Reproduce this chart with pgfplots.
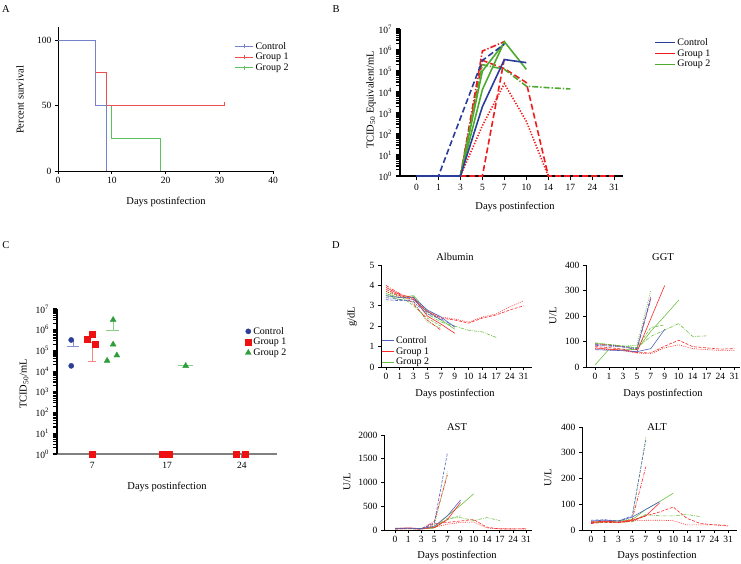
\documentclass[border=0pt]{standalone}
\usepackage{fontspec}
\setmainfont{Liberation Serif}
\usepackage{pgfplots}
\pgfplotsset{compat=1.18}

\definecolor{blA}{HTML}{7581C8}
\definecolor{rdA}{HTML}{F04E4E}
\definecolor{gnA}{HTML}{5CC05C}
\definecolor{blB}{HTML}{2B3C9B}
\definecolor{rdB}{HTML}{EE1C1C}
\definecolor{gnB}{HTML}{4DAA2E}
\definecolor{blC}{HTML}{2E3D96}
\definecolor{rdC}{HTML}{EE1111}
\definecolor{gnC}{HTML}{2E9E3A}
\definecolor{blCm}{HTML}{8890D0}
\definecolor{rdCm}{HTML}{F08888}
\definecolor{gnCm}{HTML}{88D088}
\definecolor{blD}{HTML}{5262C0}
\definecolor{rdD}{HTML}{FF2828}
\definecolor{gnD}{HTML}{6CC040}

\tikzset{
  s1/.style={solid},
  s2/.style={dash pattern=on 6pt off 3pt},
  s3/.style={dash pattern=on 1.3pt off 1.6pt},
  s4/.style={dash pattern=on 6pt off 2pt on 1.3pt off 2pt},
  d2/.style={dash pattern=on 3pt off 1.5pt},
  d3/.style={dash pattern=on 1pt off 1.2pt},
  d4/.style={dash pattern=on 3.5pt off 1.2pt on 0.8pt off 1.2pt},
}

\pgfplotsset{
  gp/.style={
    scale only axis, anchor=south west,
    axis x line=bottom, axis y line=left,
    axis line style={-, line width=0.8pt},
    tick align=outside, tick style={black, line width=0.8pt},
    major tick length=3pt,
    tick label style={font=\fontsize{9.5}{10}\selectfont},
    /pgf/number format/assume math mode=true,
    /pgf/number format/1000 sep={},
    legend style={draw=none, fill=none, font=\fontsize{10}{12}\selectfont,
      row sep=-1.5pt, inner sep=0pt},
    legend cell align=left,
    clip=false,
  },
  % \tick holds ln(value) on a log axis
  logy/.style={
    ymin=1, ymax=1e7,
    yticklabel={10\textsuperscript{\pgfmathparse{int(round(\tick/2.302585093))}\pgfmathresult}},
    y axis line style={line width=1.6pt}, tick style={line width=1pt},
    major tick length=4.5pt, minor tick length=4pt,
    minor y tick style={line width=1.1pt},
  },
  days/.style={xtick={0,...,10}, xticklabels={0,1,3,5,7,9,10,14,17,24,31},
    ymin=0, no markers, every axis plot/.append style={line width=0.6pt},
    legend image code/.code={\draw[##1] (0pt,0pt) -- (12pt,0pt);}},
}

\begin{document}
\begin{tikzpicture}
\path[use as bounding box] (0pt,0pt) rectangle (741pt,564pt);

% ---------- A: survival
\begin{axis}[gp, at={(58pt,393pt)}, width=215pt, height=144pt,
  xmin=0, xmax=40, ymin=0, ymax=110,
  xtick={0,10,...,40}, ytick={0,50,100},
  legend style={at={(0.82,0.91)}, anchor=north west},
  legend image code/.code={\draw[#1] (0pt,0pt) -- (18pt,0pt); \draw[#1] (9pt,-2pt) -- (9pt,2pt);}]
\addlegendimage{blA, line width=1pt}
\addlegendimage{rdA, line width=1pt}
\addlegendimage{gnA, line width=1pt}
\addplot[gnA, line width=1pt, const plot, forget plot] coordinates {(0,100)(7,50)(10,25)(19,0)};
\addplot[rdA, line width=1pt, const plot, forget plot] coordinates {(0,100)(7,75)(9,50)(31,50)};
\addplot[rdA, line width=1pt, forget plot] coordinates {(31,50)(31,53)};
\addplot[blA, line width=1pt, const plot, forget plot] coordinates {(0,100)(7,50)(9,0)};
\legend{Control, Group 1, Group 2}
\end{axis}

% ---------- B: viral load by animal
\begin{axis}[gp, ymode=log, logy, at={(400pt,388pt)}, width=223pt, height=147pt,
  xmin=-0.75, xmax=9.4, x axis line style={line width=1.6pt},
  xtick={0,...,9}, xticklabels={0,1,3,5,7,10,14,17,24,31},
  every axis plot/.append style={line width=1.6pt},
  legend style={at={(1.14,0.95)}, anchor=north west},
  legend image code/.code={\draw[#1, line width=1pt] (0pt,0pt) -- (20pt,0pt);}]
\addlegendimage{blB}
\addlegendimage{rdB}
\addlegendimage{gnB}
\addplot[rdB, s2, forget plot] coordinates {(2,1)(3,1)(4,3.9e5)};
\addplot[rdB, s2, forget plot] coordinates {(2,1)(3,3.2e5)(4,1.3e5)(5,2.8e4)(6,1)(7,1)(8,1)(9,1)};
\addplot[rdB, s3, forget plot] coordinates {(2,1)(3,250)(4,2.5e4)(5,400)(6,1)};
\addplot[rdB, s4, forget plot] coordinates {(2,1)(3,8.9e5)(4,2.5e6)};
\addplot[gnB, s1, forget plot] coordinates {(2,1)(3,1.3e4)(4,2.5e6)(5,1.2e5)};
\addplot[gnB, s1, forget plot] coordinates {(2,1)(3,1e5)(4,2.2e6)};
\addplot[gnB, s4, forget plot] coordinates {(2,1)(3,2e5)(4,1.2e5)(5,1.9e4)(6,1.6e4)(7,1.4e4)};
\addplot[blB, s2, forget plot] coordinates {(0,1)(1,1)(3,3.2e5)(4,1.9e6)};
\addplot[blB, s1, forget plot] coordinates {(0,1)(1,1)(2,1)(3,2e3)(4,3.5e5)(5,2.5e5)};
\legend{Control, Group 1, Group 2}
\end{axis}

% ---------- C: titres by day
\begin{axis}[gp, ymode=log, logy, at={(57pt,110pt)}, width=220pt, height=145pt,
  xmin=-0.47, xmax=2.47,
  x axis line style={draw=gray, line width=1.2pt},
  xtick={0,1,2}, xticklabels={7,17,24}, xtick style={draw=gray},
  legend style={at={(0.855,0.89)}, anchor=north west}]
\addlegendimage{only marks, mark=*, blC, mark size=2.6pt}
\addlegendimage{only marks, mark=square*, rdC, mark size=3pt}
\addlegendimage{only marks, mark=triangle*, gnC, mark size=3.4pt}
% mean and error lines
\addplot[blCm, line width=1.1pt, forget plot] coordinates {(-0.33,1.6e5)(-0.17,1.6e5)};
\addplot[blCm, line width=1.1pt, forget plot] coordinates {(-0.25,1.6e5)(-0.25,3.2e5)};
\addplot[rdCm, line width=1.1pt, forget plot] coordinates {(-0.06,2.5e5)(0.09,2.5e5)};
\addplot[rdCm, line width=1.1pt, forget plot] coordinates {(0,2.5e5)(0,3e4)};
\addplot[rdCm, line width=1.1pt, forget plot] coordinates {(-0.05,3e4)(0.05,3e4)};
\addplot[gnCm, line width=1.1pt, forget plot] coordinates {(0.19,9.5e5)(0.36,9.5e5)};
\addplot[gnCm, line width=1.1pt, forget plot] coordinates {(0.28,9.5e5)(0.28,3e6)};
\addplot[gnCm, line width=1.1pt, forget plot] coordinates {(1.15,1.8e4)(1.35,1.8e4)};
% individual animals
\addplot[only marks, mark=*, blC, mark size=2.6pt, forget plot] coordinates {(-0.28,3.2e5)(-0.28,1.8e4)};
\addplot[only marks, mark=square*, rdC, mark size=3pt, forget plot] coordinates
  {(-0.07,3.6e5)(0,6.2e5)(0.04,2.1e5)(0,1)(0.93,1)(1.03,1)(1.93,1)(2.04,1)};
\addplot[only marks, mark=triangle*, gnC, mark size=3.4pt, forget plot] coordinates
  {(0.28,3e6)(0.28,1.95e5)(0.2,3.2e4)(0.33,5.8e4)(1.25,1.8e4)};
\legend{Control, Group 1, Group 2}
\end{axis}

% ---------- D: Albumin
\begin{axis}[gp, days, at={(381pt,197pt)}, width=151pt, height=102pt,
  xmin=-0.36, xmax=10.6, ymax=5, ytick={0,...,5},
  legend style={at={(0.0,0.32)}, anchor=north west}]
\addlegendimage{blD, line width=0.8pt}
\addlegendimage{rdD, line width=0.8pt}
\addlegendimage{gnD, line width=0.8pt}
\addplot[gnD, s1, forget plot] coordinates {(0,3.6)(1,3.4)(2,3.5)(3,2.75)(4,2.3)(5,1.85)};
\addplot[gnD, d2, forget plot] coordinates {(0,3.7)(1,3.5)(2,3.0)(3,2.4)(4,2.0)};
\addplot[gnD, d4, forget plot] coordinates {(0,3.5)(1,3.3)(2,3.45)(3,2.6)(4,2.2)(5,2.0)(6,1.8)(7,1.72)(8,1.45)};
\addplot[gnD, d3, forget plot] coordinates {(0,3.6)(1,3.3)(2,3.2)(3,2.2)(4,1.9)};
\addplot[rdD, s1, forget plot] coordinates {(0,3.9)(1,3.55)(2,3.4)(3,2.5)(4,2.1)(5,1.65)};
\addplot[rdD, d2, forget plot] coordinates {(0,3.8)(1,3.5)(2,3.3)(3,2.7)(4,2.4)(5,2.3)(6,2.15)(7,2.4)(8,2.55)(9,2.8)(10,3.0)};
\addplot[rdD, d3, forget plot] coordinates {(0,3.7)(1,3.45)(2,3.35)(3,2.75)(4,2.45)(5,2.35)(6,2.2)(7,2.45)(8,2.6)(9,2.95)(10,3.25)};
\addplot[rdD, d4, forget plot] coordinates {(0,4.0)(1,3.6)(2,3.1)(3,2.3)(4,1.8)};
\addplot[blD, s1, forget plot] coordinates {(0,3.5)(1,3.4)(2,3.4)(3,2.8)(4,2.45)(5,1.95)};
\addplot[blD, d2, forget plot] coordinates {(0,3.3)(1,3.25)(2,3.3)(3,2.7)(4,2.3)};
\addplot[blD, d4, forget plot] coordinates {(0,3.4)(1,3.3)(2,3.2)(3,2.6)(4,2.35)(5,2.0)};
\legend{Control, Group 1, Group 2}
\end{axis}

% ---------- D: GGT
\begin{axis}[gp, days, at={(586pt,197pt)}, width=154pt, height=102pt,
  xmin=-0.65, xmax=10.4, ymax=400, ytick={0,100,...,400}]
\addplot[gnD, s1] coordinates {(0,8)(1,70)(2,70)(3,68)(4,140)(5,200)(6,262)};
\addplot[gnD, d2] coordinates {(0,92)(1,88)(2,82)(3,75)(4,155)(5,165)};
\addplot[gnD, d4] coordinates {(0,95)(1,88)(2,82)(3,76)(4,120)(5,145)(6,170)(7,120)(8,122)};
\addplot[gnD, d3] coordinates {(0,93)(1,88)(2,82)(3,85)(4,300)};
\addplot[rdD, s1] coordinates {(0,75)(1,70)(2,66)(3,58)(4,190)(5,320)};
\addplot[rdD, d2] coordinates {(0,80)(1,76)(2,70)(3,57)(4,55)(5,82)(6,105)(7,80)(8,75)(9,70)(10,72)};
\addplot[rdD, d3] coordinates {(0,72)(1,68)(2,64)(3,55)(4,52)(5,75)(6,87)(7,72)(8,68)(9,65)(10,65)};
\addplot[rdD, d4] coordinates {(0,90)(1,86)(2,80)(3,68)(4,270)};
\addplot[blD, s1] coordinates {(0,68)(1,66)(2,64)(3,60)(4,72)(5,148)};
\addplot[blD, d2] coordinates {(0,88)(1,85)(2,80)(3,72)(4,275)};
\addplot[blD, d4] coordinates {(0,85)(1,82)(2,78)(3,70)(4,265)};
\end{axis}

% ---------- D: AST
\begin{axis}[gp, days, at={(384pt,34pt)}, width=148pt, height=95pt,
  xmin=-0.84, xmax=10.45, ymax=2000, ytick={0,500,...,2000}]
\addplot[gnD, s1] coordinates {(0,30)(1,35)(2,25)(3,60)(4,300)(5,520)(6,760)};
\addplot[gnD, d2] coordinates {(0,20)(1,25)(2,20)(3,40)(4,220)(5,300)};
\addplot[gnD, d4] coordinates {(0,30)(1,30)(2,20)(3,50)(4,250)(5,260)(6,200)(7,260)(8,200)};
\addplot[gnD, d3] coordinates {(0,25)(1,30)(2,25)(3,100)(4,1230)};
\addplot[rdD, s1] coordinates {(0,30)(1,45)(2,30)(3,50)(4,220)(5,580)};
\addplot[rdD, d2] coordinates {(0,20)(1,30)(2,20)(3,130)(4,160)(5,190)(6,220)(7,60)(8,20)(9,20)(10,30)};
\addplot[rdD, d3] coordinates {(0,25)(1,25)(2,20)(3,60)(4,120)(5,160)(6,170)(7,40)(8,30)(9,25)(10,20)};
\addplot[rdD, d4] coordinates {(0,35)(1,30)(2,25)(3,180)(4,1160)};
\addplot[blD, s1] coordinates {(0,40)(1,40)(2,30)(3,80)(4,300)(5,630)};
\addplot[blD, d2] coordinates {(0,30)(1,35)(2,25)(3,150)(4,1630)};
\end{axis}

% ---------- D: ALT
\begin{axis}[gp, days, at={(582pt,34pt)}, width=155pt, height=103pt,
  xmin=-0.66, xmax=10.65, ymax=400, ytick={0,100,...,400}]
\addplot[gnD, s1] coordinates {(0,30)(1,32)(2,35)(3,40)(4,80)(5,110)(6,143)};
\addplot[gnD, d2] coordinates {(0,30)(1,30)(2,32)(3,35)(4,60)};
\addplot[gnD, d4] coordinates {(0,28)(1,30)(2,30)(3,32)(4,60)(5,55)(6,55)(7,60)(8,52)};
\addplot[gnD, d3] coordinates {(0,30)(1,35)(2,38)(3,42)(4,362)};
\addplot[rdD, s1] coordinates {(0,28)(1,35)(2,30)(3,38)(4,55)(5,105)};
\addplot[rdD, d2] coordinates {(0,25)(1,30)(2,28)(3,35)(4,55)(5,70)(6,89)(7,45)(8,25)(9,20)(10,18)};
\addplot[rdD, d3] coordinates {(0,30)(1,32)(2,30)(3,35)(4,38)(5,38)(6,36)(7,20)(8,20)(9,20)(10,15)};
\addplot[rdD, d4] coordinates {(0,32)(1,33)(2,30)(3,40)(4,246)};
\addplot[blD, s1] coordinates {(0,35)(1,38)(2,35)(3,50)(4,80)(5,110)};
\addplot[blD, d2] coordinates {(0,38)(1,40)(2,35)(3,55)(4,350)};
\end{axis}

% ---------- panel letters, titles and axis labels
\begin{scope}[font=\fontsize{10.5}{12}\selectfont]
\node at (6pt,555pt) {A};
\node at (336pt,555pt) {B};
\node at (6pt,319pt) {C};
\node at (336pt,319pt) {D};
\node at (166pt,362pt) {Days postinfection};
\node[rotate=90] at (20pt,464pt) {Percent survival};
\node at (515pt,357pt) {Days postinfection};
\node[rotate=90] at (371pt,464pt) {TCID\textsubscript{50} Equivalent/mL};
\node at (167pt,77pt) {Days postinfection};
\node[rotate=90] at (24pt,180pt) {TCID\textsubscript{50}/mL};
\node at (455pt,307pt) {Albumin};
\node at (663pt,307pt) {GGT};
\node at (457pt,137pt) {AST};
\node at (657pt,137pt) {ALT};
\node[rotate=90] at (352pt,247pt) {g/dL};
\node[rotate=90] at (553pt,248pt) {U/L};
\node[rotate=90] at (347pt,82pt) {U/L};
\node[rotate=90] at (548pt,86pt) {U/L};
\node at (455pt,170pt) {Days postinfection};
\node at (663pt,170pt) {Days postinfection};
\node at (457pt,8pt) {Days postinfection};
\node at (657pt,8pt) {Days postinfection};
\end{scope}
\end{tikzpicture}
\end{document}
